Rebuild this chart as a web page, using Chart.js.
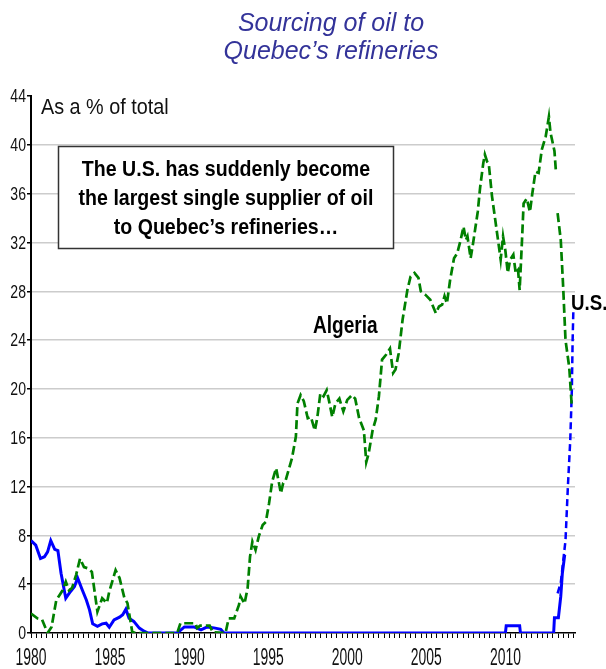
<!DOCTYPE html>
<html lang="en">
<head>
  <meta charset="UTF-8">
  <title>Sourcing of oil to Quebec's refineries</title>
  <script src="https://cdn.jsdelivr.net/npm/chart.js"></script>
  <style>
    html, body { margin: 0; padding: 0; background: #fff; }
    #wrap { width: 606px; height: 669px; }
  </style>
</head>
<body>
<div id="wrap">
  <canvas id="myChart" width="606" height="669"></canvas>
</div>
<script>
// Algeria share (% of total), null = break between sources
const algeriaYears = [1980.0, 1980.4, 1980.7, 1981.05, 1981.3, 1981.6, 1981.8, 1982.0, 1982.2, 1982.4,
  1982.6, 1982.85, 1983.1, 1983.35, 1983.6, 1983.85, 1984.2, 1984.5, 1984.8, 1984.95,
  1985.35, 1985.6, 1985.9, 1986.1, 1986.4, 1986.6, 1989.25, 1989.45, 1990.4, 1990.5,
  1990.7, 1991.3, 1991.5, 1992.3, 1992.5, 1992.85, 1993.15, 1993.25, 1993.5, 1993.7,
  1993.85, 1994.0, 1994.2, 1994.4, 1994.65, 1994.85, 1995.05, 1995.25, 1995.5, 1995.65,
  1995.8, 1995.95, 1996.1, 1996.3, 1996.5, 1996.75, 1996.85, 1997.05, 1997.25, 1997.5,
  1997.7, 1997.95, 1998.1, 1998.3, 1998.5, 1998.7, 1998.85, 1999.05, 1999.25, 1999.5,
  1999.75, 2000.0, 2000.3, 2000.5, 2000.75, 2001.05, 2001.2, 2001.35, 2001.6, 2001.8,
  2002.0, 2002.2, 2002.45, 2002.7, 2002.9, 2003.05, 2003.25, 2003.5, 2003.8, 2004.0,
  2004.25, 2004.5, 2004.65, 2004.95, 2005.25, 2005.6, 2005.8, 2006.0, 2006.15, 2006.3,
  2006.5, 2006.75, 2006.95, 2007.15, 2007.35, 2007.5, 2007.6, 2007.8, 2007.95, 2008.1,
  2008.25, 2008.4, 2008.6, 2008.7, 2008.85, 2008.95, 2009.15, 2009.5, 2009.7, 2009.85,
  2010.0, 2010.15, 2010.3, 2010.5, 2010.65, 2010.8, 2010.9, 2011.05, 2011.15, 2011.35,
  2011.55, 2011.7, 2011.9, 2012.1, 2012.3, 2012.55, 2012.75, 2012.85, 2013.0, 2013.1,
  2013.2, 2013.25, 2013.3, 2013.5, 2013.65, 2013.8, 2014.0, 2014.05, 2014.2];
const algeriaShare = [1.6, 1.2, 1.1, 0.0, 0.5, 2.7, 3.1, 3.5, 4.2, 3.5,
  3.7, 4.75, 6.1, 5.4, 5.3, 5.0, 1.75, 2.85, 2.45, 3.4,
  5.15, 4.5, 2.9, 2.45, 0.1, 0, 0, 0.8, 0.8, 0.4,
  0.6, 0.6, 0.05, 0, 1.2, 1.2, 2.3, 3.0, 2.4, 3.7,
  6.25, 7.5, 6.8, 7.9, 8.85, 9.1, 10.6, 12.4, 13.5, 12.5,
  11.45, 12.3, 12.5, 13.4, 14.3, 16.1, 18.8, 19.5, 19.0, 17.6,
  17.7, 16.6, 17.6, 19.65, 19.4, 19.9, 19.0, 17.7, 18.8, 19.2,
  18.15, 19.1, 19.5, 19.2, 17.6, 16.6, 14.0, 14.7, 16.6, 17.5,
  19.4, 22.4, 22.8, 23.3, 21.3, 21.6, 22.9, 25.7, 28.1, 29.2,
  29.5, 29.1, 28.0, 27.7, 27.3, 26.2, 26.75, 26.9, 27.6, 27.0,
  28.9, 30.7, 31.1, 32.1, 33.3, 32.2, 32.5, 30.7, 31.9, 33.2,
  34.5, 36.5, 38.5, 39.2, 38.6, 38.4, 35.8, 32.5, 30.6, 32.5,
  31.3, 29.5, 30.6, 31.0, 29.5, 29.75, 28.1, 32.2, 35.2, 35.6,
  34.5, 36.0, 37.8, 37.7, 39.6, 40.7, 42.3, 41.0, 40.1, 39.5,
  37.7, null, 34.4, 32.2, 28.4, 24.0, 22.1, 21.5, 18.5];

// U.S. share, historical series (solid)
const usYears = [1980.0, 1980.3, 1980.6, 1980.85, 1981.05, 1981.25, 1981.5, 1981.7, 1981.9, 1982.2,
  1982.5, 1982.75, 1982.95, 1983.25, 1983.5, 1983.7, 1983.9, 1984.2, 1984.5, 1984.75,
  1984.95, 1985.25, 1985.6, 1985.8, 1986.0, 1986.2, 1986.5, 1986.85, 1987.15, 1987.4,
  1989.25, 1989.7, 1990.3, 1990.75, 1991.15, 1991.65, 1992.0, 1992.2, 2010.0, 2010.05,
  2010.9, 2010.95, 2013.05, 2013.1, 2013.35, 2013.5, 2013.6, 2013.75];
const usShare = [7.57, 7.2, 6.1, 6.25, 6.65, 7.57, 6.85, 6.75, 4.9, 2.85,
  3.4, 3.8, 4.5, 3.5, 2.7, 1.9, 0.75, 0.55, 0.75, 0.8,
  0.47, 1.07, 1.3, 1.5, 1.95, 1.2, 0.95, 0.4, 0.15, 0,
  0, 0.5, 0.5, 0.25, 0.5, 0.4, 0.3, 0, 0, 0.6,
  0.6, 0, 0, 1.25, 1.25, 3.0, 4.9, 6.4];

// U.S. share, recent series (dashed)
const usNewYears = [2013.3, 2013.45, 2013.5, 2013.8, 2013.95, 2014.1, 2014.2, 2014.25, 2014.3];
const usNewShare = [3.25, 3.9, 4.1, 7.6, 12.0, 15.8, 19.9, 24.0, 26.6];

const labelYears = [1980, 1985, 1990, 1995, 2000, 2005, 2010];

const sans = "'Liberation Sans', Arial, sans-serif";

function toPoints(xs, ys) {
  return xs.map((x, i) => ({ x: x, y: ys[i] }));
}

// text squeezed horizontally to mimic a narrow face
function drawText(ctx, str, x, y, font, sx, align, base) {
  ctx.save();
  ctx.translate(x, y);
  ctx.scale(sx, 1);
  ctx.font = font;
  ctx.textAlign = align;
  ctx.textBaseline = base || 'alphabetic';
  ctx.fillText(str, 0, 0);
  ctx.restore();
}

const textPlugin = {
  id: 'texts',
  afterDraw(chart) {
    const ctx = chart.ctx;
    const xs = chart.scales.x, ys = chart.scales.y;
    ctx.save();

    // tick labels, placed through the scales
    ctx.fillStyle = '#111';
    labelYears.forEach(yr => {
      drawText(ctx, String(yr), xs.getPixelForValue(yr), 665, '24px ' + sans, 0.58, 'center');
    });
    ys.ticks.forEach(t => {
      drawText(ctx, String(t.value), 26, ys.getPixelForValue(t.value) + 1, '19px ' + sans, 0.74, 'right', 'middle');
    });

    // title
    ctx.fillStyle = 'rgb(51,51,153)';
    ctx.font = 'italic 25px ' + sans;
    ctx.textAlign = 'center';
    ctx.fillText('Sourcing of oil to', 331, 31);
    ctx.fillText('Quebec\u2019s refineries', 331, 59);

    // unit
    ctx.fillStyle = '#111';
    drawText(ctx, 'As a % of total', 41, 114, '22px ' + sans, 0.9, 'left');

    // box
    ctx.fillStyle = '#fff';
    ctx.fillRect(58, 146, 335, 102);
    ctx.strokeStyle = '#333';
    ctx.lineWidth = 1.5;
    ctx.strokeRect(58.5, 146.5, 335, 102);
    ctx.fillStyle = '#000';
    const bf = 'bold 22px ' + sans;
    drawText(ctx, 'The U.S. has suddenly become', 226, 176, bf, 0.89, 'center');
    drawText(ctx, 'the largest single supplier of oil', 226, 205, bf, 0.89, 'center');
    drawText(ctx, 'to Quebec\u2019s refineries\u2026', 226, 234, bf, 0.89, 'center');

    // series labels
    drawText(ctx, 'Algeria', 313, 333, 'bold 23px ' + sans, 0.83, 'left');
    drawText(ctx, 'U.S.', 571, 310, 'bold 22px ' + sans, 0.85, 'left');
    ctx.restore();
  }
};

const data = {
  datasets: [{
    label: 'Algeria',
    data: toPoints(algeriaYears, algeriaShare),
    borderColor: 'rgb(0,128,0)',
    borderWidth: 2.7,
    borderDash: [9, 4],
    spanGaps: false
  }, {
    label: 'U.S.',
    data: toPoints(usYears, usShare),
    borderColor: 'rgb(0,0,255)',
    borderWidth: 3
  }, {
    label: 'U.S. (recent)',
    data: toPoints(usNewYears, usNewShare),
    borderColor: 'rgb(0,0,255)',
    borderWidth: 2.5,
    borderDash: [7, 4]
  }]
};

const config = {
  type: 'line',
  data: data,
  plugins: [textPlugin],
  options: {
    responsive: false,
    animation: false,
    layout: { padding: { top: 96, right: 31, left: 0, bottom: 0 } },
    elements: { point: { radius: 0 }, line: { tension: 0, fill: false } },
    plugins: { legend: { display: false }, title: { display: false }, tooltip: { enabled: false } },
    scales: {
      x: {
        type: 'linear',
        min: 1980,
        max: 2014.4,
        afterBuildTicks: function (scale) {
          const t = [];
          for (let i = 0; i <= 103; i++) t.push({ value: 1980 + i / 3 });
          scale.ticks = t;
        },
        afterFit: function (scale) { scale.height = 36; },
        border: { color: '#000', width: 1.5 },
        grid: { drawOnChartArea: false, drawTicks: true, tickLength: 5, color: '#000', lineWidth: 1 },
        ticks: { display: false, autoSkip: false, maxRotation: 0 }
      },
      y: {
        min: 0,
        max: 44,
        afterFit: function (scale) { scale.width = 31; },
        border: { color: '#000', width: 2 },
        grid: {
          color: function (c) {
            const v = c.tick ? c.tick.value : 0;
            return (v === 0 || v === 44) ? 'rgba(0,0,0,0)' : '#cccccc';
          },
          lineWidth: 1.5,
          tickColor: '#000',
          tickLength: 4
        },
        ticks: { display: false, stepSize: 4 }
      }
    }
  }
};

const myChart = new Chart(document.getElementById('myChart'), config);
</script>
</body>
</html>
